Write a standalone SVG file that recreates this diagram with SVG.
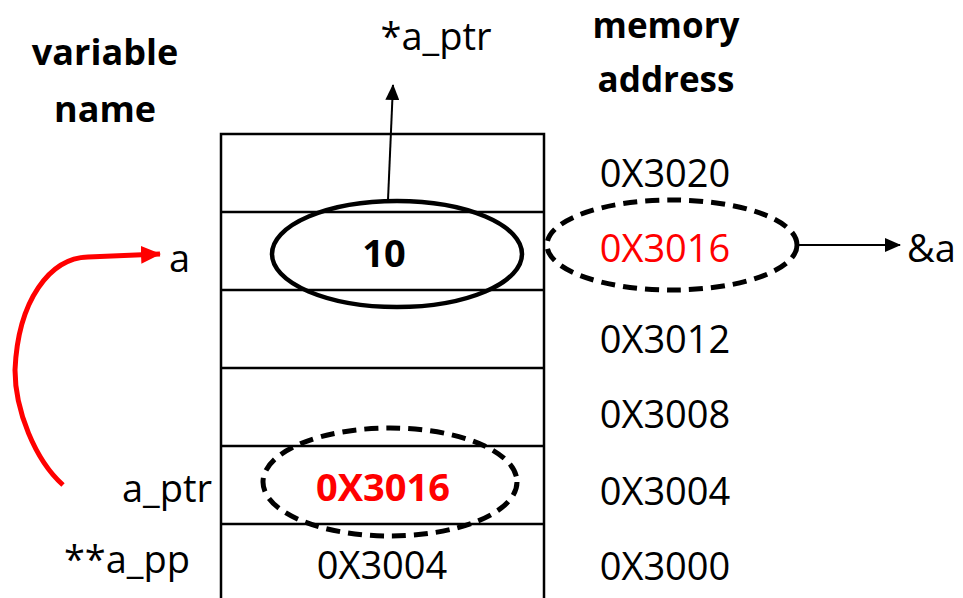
<svg xmlns="http://www.w3.org/2000/svg" width="963" height="598" viewBox="0 0 963 598">
<style>
text{font-family:"Open Sans","Liberation Sans",sans-serif;fill:#000}
.h{font-size:36px;font-weight:bold;text-anchor:middle}
.t{font-size:38px}
.addr{font-size:38px}
.red{fill:#ff0000}
.grid{stroke:#000;stroke-width:2.5;fill:none}
.dash{fill:none;stroke:#000;stroke-width:5;stroke-dasharray:14 8}
.conn{stroke:#000;stroke-width:2;fill:none}
</style>
<defs>
<marker id="ah" viewBox="0 0 16 14" refX="15" refY="7" markerWidth="16" markerHeight="14" markerUnits="userSpaceOnUse" orient="auto">
<path d="M0,0 L16,7 L0,14 z" fill="#000"/>
</marker>
<marker id="ahr" viewBox="0 0 20 18" refX="19" refY="9" markerWidth="20" markerHeight="18" markerUnits="userSpaceOnUse" orient="auto">
<path d="M0,0 L20,9 L0,18 z" fill="#ff0000"/>
</marker>
</defs>
<g id="headers">
<text class="h" x="105" y="65">variable</text>
<text class="h" x="105" y="122">name</text>
<text class="h" x="666" y="38" style="font-size:35px">memory</text>
<text class="h" x="666" y="92" style="font-size:35px">address</text>
</g>
<g id="memory-table">
<path class="grid" d="M221,598 V134 H544 V598 M221,212 H544 M221,290 H544 M221,368 H544 M221,446 H544 M221,524 H544"/>
</g>
<g id="cell-a">
<ellipse cx="397" cy="254" rx="125" ry="53" fill="none" stroke="#000" stroke-width="4.5"/>
<text x="384" y="267" style="font-size:38px;font-weight:bold;text-anchor:middle">10</text>
</g>
<g id="cell-a_ptr">
<ellipse class="dash" cx="390" cy="482" rx="127" ry="54"/>
<text x="383" y="501" class="red" style="font-size:38px;font-weight:bold;text-anchor:middle">0X3016</text>
</g>
<g id="cell-a_pp">
<text x="382" y="579" class="t" style="text-anchor:middle">0X3004</text>
</g>
<g id="addr-3016">
<ellipse class="dash" cx="672" cy="245" rx="125" ry="45"/>
<text x="665" y="262" class="addr red" style="text-anchor:middle">0X3016</text>
</g>
<g id="addresses">
<text x="665" y="187" class="addr" style="text-anchor:middle">0X3020</text>
<text x="665" y="353" class="addr" style="text-anchor:middle">0X3012</text>
<text x="665" y="428" class="addr" style="text-anchor:middle">0X3008</text>
<text x="665" y="505" class="addr" style="text-anchor:middle">0X3004</text>
<text x="665" y="580" class="addr" style="text-anchor:middle">0X3000</text>
</g>
<g id="labels">
<text x="190" y="272" class="t" style="text-anchor:end">a</text>
<text x="212" y="502" class="t" style="text-anchor:end">a_ptr</text>
<text x="190" y="573" class="t" style="text-anchor:end">**a_pp</text>
<text x="436" y="50" class="t" style="text-anchor:middle">*a_ptr</text>
<text x="907" y="262" class="t">&amp;a</text>
</g>
<g id="connectors">
<line class="conn" x1="388" y1="200" x2="393" y2="85" marker-end="url(#ah)"/>
<line class="conn" x1="798" y1="245" x2="900" y2="245" marker-end="url(#ah)"/>
<path d="M63,485 C35,460 15,410 15,370 C18,300 50,258 88,257 L160,254" fill="none" stroke="#ff0000" stroke-width="5" marker-end="url(#ahr)"/>
</g>
</svg>
